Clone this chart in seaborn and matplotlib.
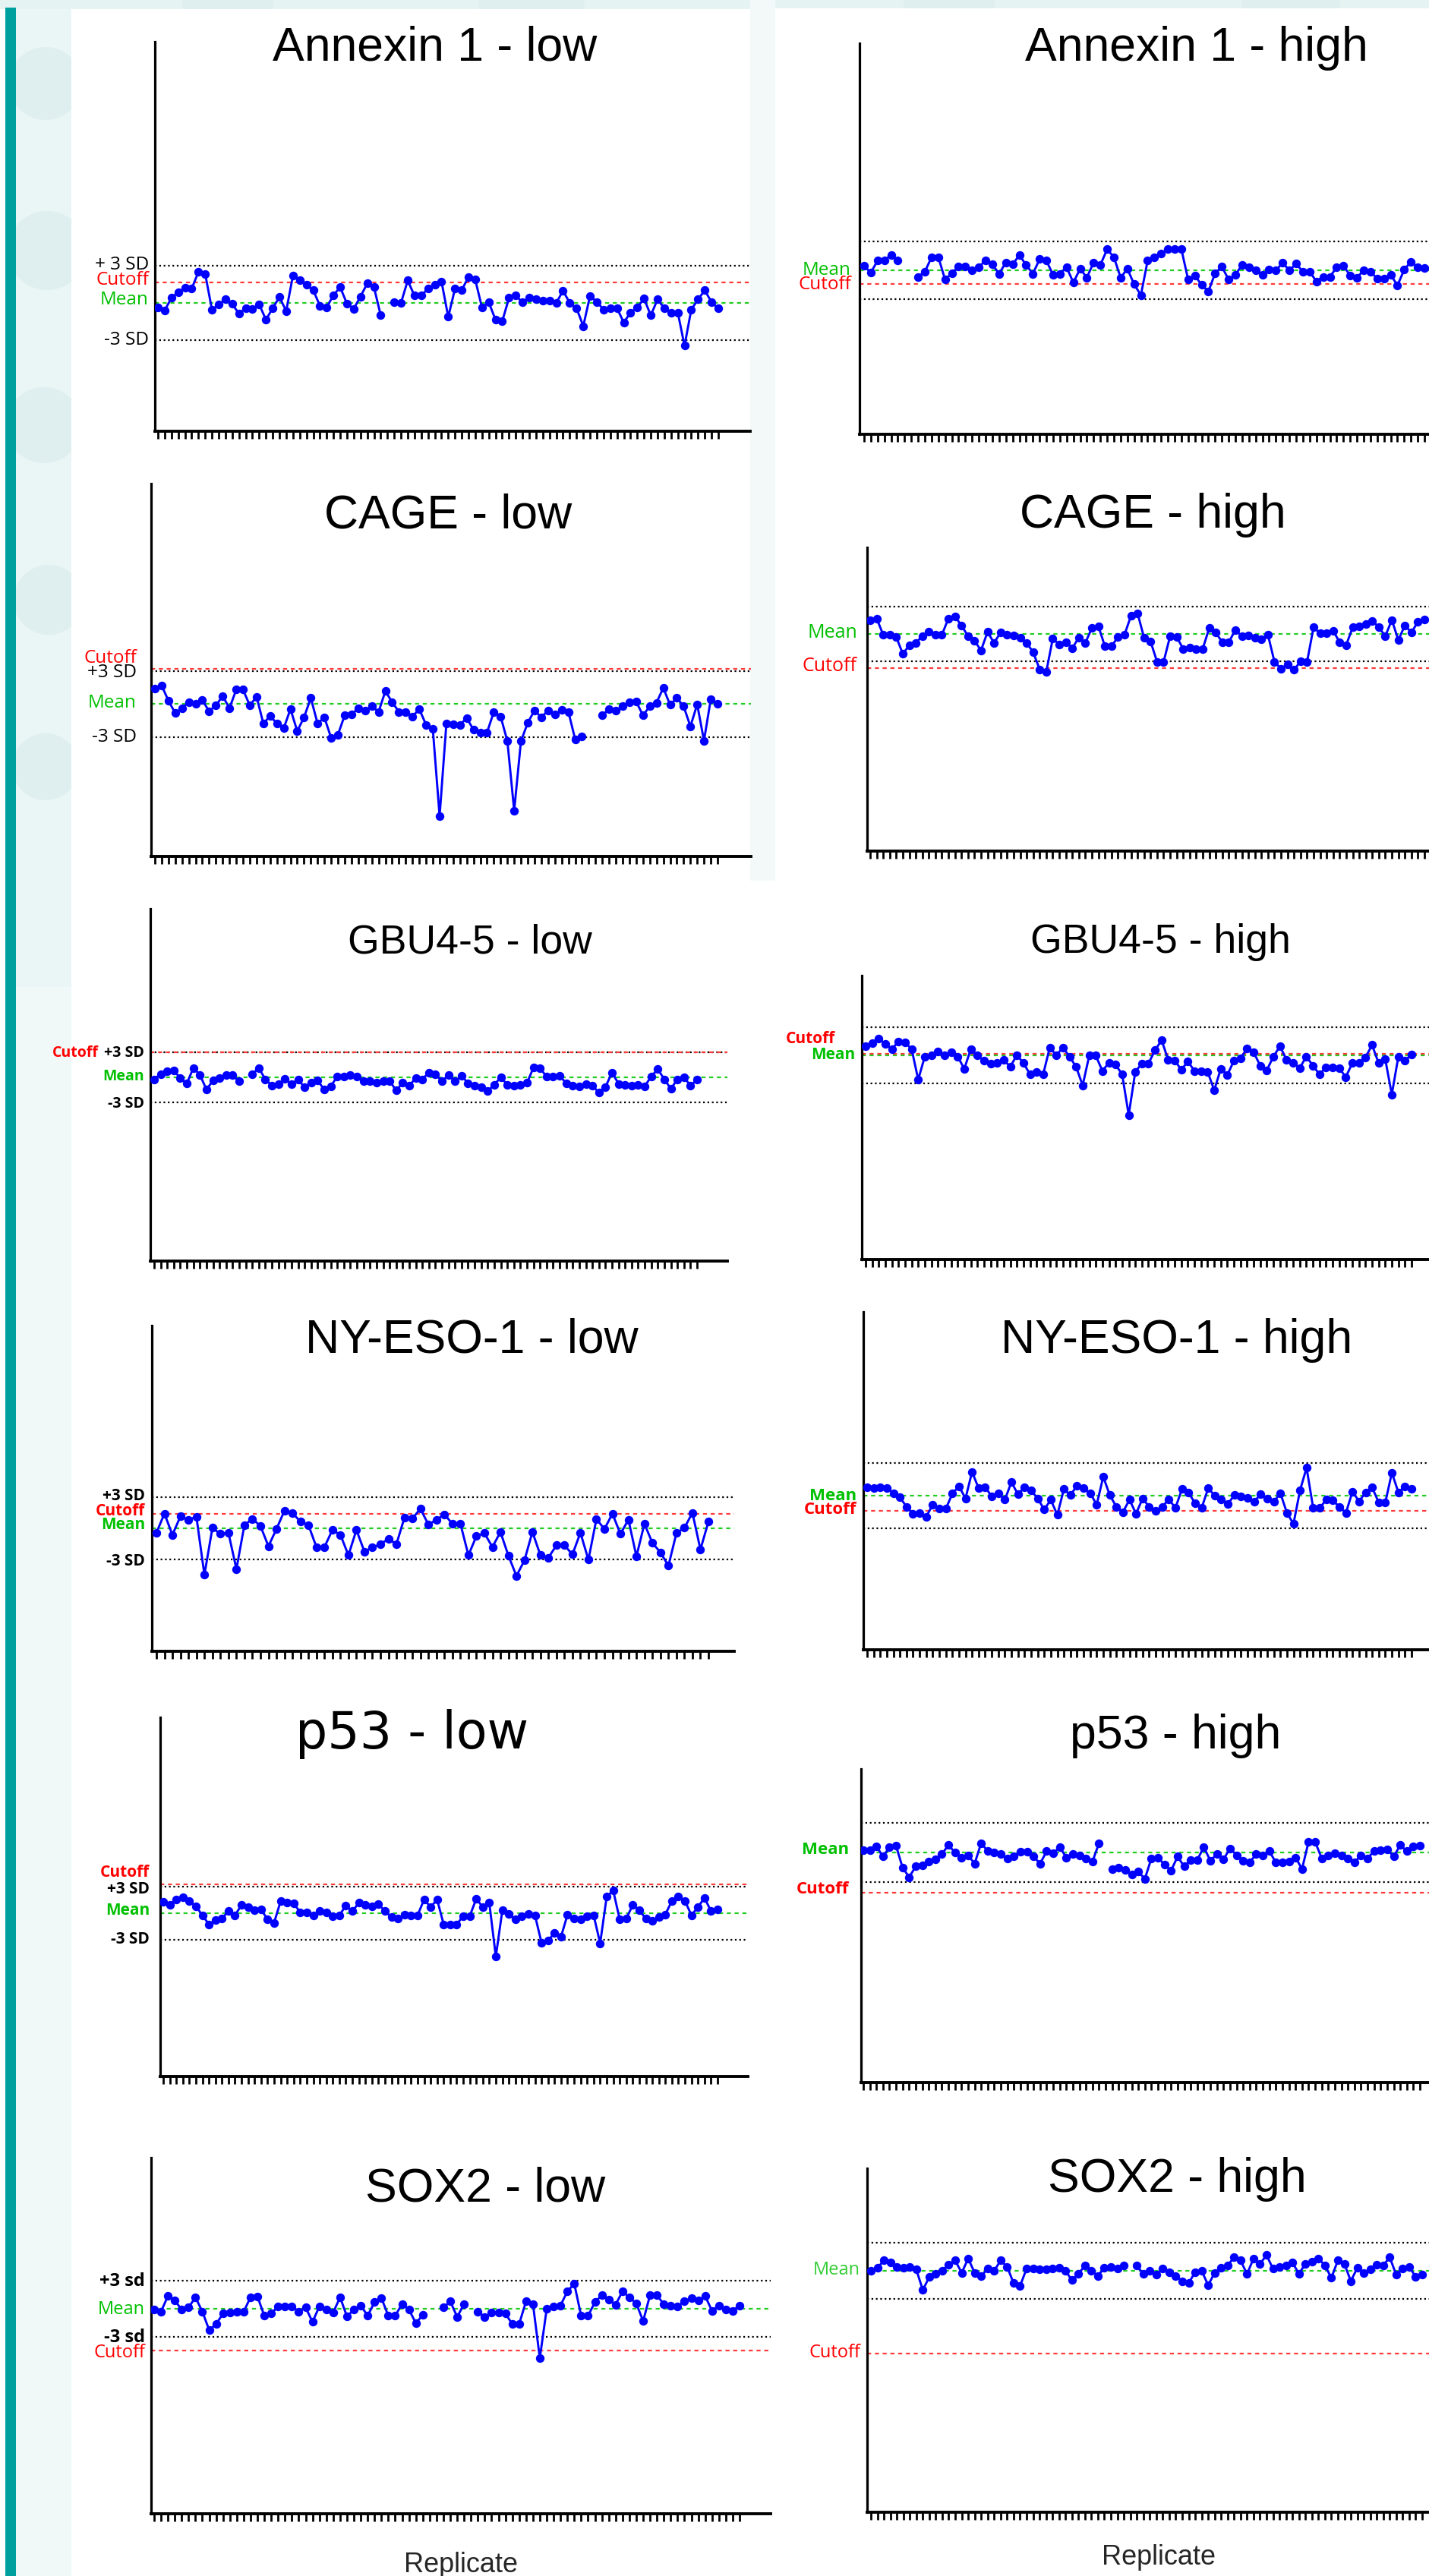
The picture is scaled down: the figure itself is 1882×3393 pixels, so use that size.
import numpy as np
import pandas as pd
import matplotlib
matplotlib.use("Agg")
import matplotlib.pyplot as plt
import seaborn as sns
from matplotlib.patches import Rectangle, Ellipse

W, H = 1883, 3393
nan = np.nan

# values in SD units: mean = 0, control limits at +/-3 SD, nan = missing replicate
annexin_low = [-0.35, -0.6, 0.4, 0.86, 1.2, 1.14, 2.5, 2.33, -0.53, -0.14, 0.28, -0.07, -0.88, -0.42, -0.47,
               -0.12, -1.35, -0.42, 0.47, -0.65, 2.2, 1.84, 1.44, 1.02, -0.23, -0.35, 0.63, 1.26, -0.07, -0.47,
               0.51, 1.56, 1.26, -1.0, nan, 0.05, 0.0, 1.8, 0.58, 0.58, 1.16, 1.44, 1.72, -1.12, 1.14, 1.02, 2.1,
               1.86, -0.37, 0.05, -1.35, -1.47, 0.4, 0.58, 0.05, 0.4, 0.28, 0.21, 0.16, 0.0, 0.98, 0.0, -0.42,
               -1.86, 0.56, 0.09, -0.53, -0.42, -0.42, -1.58, -0.77, -0.37, 0.35, -1.0, 0.28, -0.42, -0.77, -0.77,
               -3.44, -0.53, 0.28, 1.02, 0.05, -0.43]
annexin_high = [0.45, -0.24, 1.0, 1.06, 1.58, 1.0, nan, nan, -0.67, -0.15, 1.36, 1.36, -0.97, -0.3, 0.36, 0.36,
                0.0, 0.3, 1.06, 0.6, -0.36, 0.82, 0.6, 1.58, 0.55, -0.36, 1.15, 1.0, -0.48, -0.36, 0.3, -1.27,
                0.15, -0.76, 0.82, 0.55, 2.18, 1.36, -0.76, 0.15, -1.45, -2.58, 1.0, 1.36, 1.76, 2.18, 2.18, 2.18,
                -0.97, -0.55, -1.52, -2.2, -0.3, 0.36, -0.97, -0.45, 0.55, 0.3, 0.0, -0.45, 0.06, 0.0, 0.76, 0.0,
                0.67, -0.15, -0.15, -1.15, -0.67, -0.67, 0.3, 0.45, -0.52, -0.76, 0.0, -0.15, -0.85, -0.85, -0.45,
                -1.58, 0.06, 0.9, 0.3, 0.24]
cage_low = [1.35, 1.65, 0.28, -0.85, -0.4, 0.15, 0.03, 0.33, -0.68, -0.15, 0.7, -0.4, 1.28, 1.28, -0.15, 0.65,
            -1.8, -1.1, -1.8, -2.23, -0.48, -2.48, -1.23, 0.53, -1.8, -1.23, -3.1, -2.8, -1.05, -0.98, -0.4, -0.6,
            -0.23, -0.73, 1.15, 0.15, -0.73, -0.73, -1.15, -0.48, -1.9, -2.3, -10.2, -1.8, -1.85, -1.9, -1.3,
            -2.35, -2.6, -2.6, -0.73, -1.15, -3.4, -9.7, -3.4, -1.73, -0.6, -1.23, -0.6, -0.98, -0.55, -0.73,
            -3.23, -2.98, nan, nan, -1.05, -0.48, -0.65, -0.23, 0.15, 0.2, -1.05, -0.23, 0.1, 1.45, -0.1, 0.53,
            -0.23, -2.05, -0.05, -3.35, 0.4, 0.03]
cage_high = [1.54, 1.69, -0.09, -0.09, -0.33, -2.17, -1.28, -0.98, -0.24, 0.27, -0.09, -0.09, 1.69, 1.9, 0.95,
             -0.24, -0.74, -1.81, 0.21, -0.98, 0.15, -0.09, -0.15, -0.45, -0.98, -2.02, -3.89, -4.18, -0.53, -1.13,
             -0.92, -1.57, -0.39, -0.98, 0.65, 0.86, -1.36, -1.36, -0.33, -0.09, 1.99, 2.28, -0.39, -0.83, -3.06,
             -3.06, -0.24, -0.33, -1.63, -1.51, -1.63, -1.63, 0.65, 0.15, -0.92, -0.92, 0.45, -0.24, -0.15, -0.45,
             -0.62, -0.09, -3.06, -3.8, -3.35, -3.95, -3.0, -3.06, 0.74, 0.06, 0.06, 0.36, -0.92, -1.22, 0.74,
             0.86, 1.1, 1.45, 0.74, -0.24, 1.54, -0.68, 0.95, 0.15, 1.34, 1.6]
gbu_low = [-0.24, 0.39, 0.73, 0.83, -0.1, -0.73, 1.12, 0.29, -1.46, -0.39, -0.1, 0.24, 0.24, -0.49, nan, 0.39,
           1.12, -0.24, -0.98, -0.83, -0.2, -0.78, -0.29, -1.17, -0.68, -0.39, -1.46, -1.07, 0.1, 0.1, 0.29, 0.1,
           -0.49, -0.49, -0.68, -0.49, -0.44, -1.56, -0.68, -0.98, -0.1, -0.24, 0.59, 0.39, -0.49, 0.29, -0.49,
           0.2, -0.73, -0.98, -1.22, -1.66, -0.88, 0.0, -0.88, -0.98, -0.88, -0.68, 1.17, 1.07, 0.1, 0.1, 0.2,
           -0.73, -0.98, -1.12, -0.78, -0.98, -1.85, -1.17, 0.59, -0.78, -0.88, -0.98, -0.88, -1.07, 0.1, 0.98,
           -0.24, -1.37, -0.24, 0.0, -0.98, -0.29]
gbu_high = [0.97, 1.28, 1.81, 1.19, 0.66, 1.5, 1.37, 0.66, -2.6, -0.13, 0.0, 0.4, -0.04, 0.31, -0.13, -1.45, 0.66,
            -0.04, -0.57, -0.93, -0.79, -0.48, -1.23, 0.04, -0.84, -2.03, -1.76, -2.03, 0.84, 0.0, 0.84, -0.13,
            -1.23, -3.22, -0.04, -0.04, -1.67, -0.79, -1.01, -2.03, -6.39, -1.76, -0.88, -0.88, 0.53, 1.63, -0.48,
            -0.57, -1.54, -0.66, -1.67, -1.67, -1.76, -3.74, -1.45, -2.11, -0.57, -0.35, 0.75, 0.31, -1.1, -1.59,
            -0.13, 0.97, -0.48, -0.84, -1.37, -0.13, -1.1, -2.03, -1.28, -1.28, -1.37, -2.33, -0.84, -0.84, -0.22,
            1.1, -0.84, -0.4, -4.19, -0.13, -0.57, 0.09]
nyeso_low = [-0.43, 1.4, -0.62, 1.13, 0.82, 1.09, -4.44, 0.04, -0.54, -0.43, -3.89, 0.31, 0.89, 0.23, -1.71,
             -0.08, 1.67, 1.48, 0.62, 0.31, -1.79, -1.79, -0.16, -0.62, -2.57, -0.16, -2.22, -1.83, -1.52, -1.01,
             -1.52, 1.01, 0.93, 1.87, 0.35, 0.82, 1.32, 0.43, 0.43, -2.57, -0.74, -0.47, -1.79, -0.35, -2.61,
             -4.55, -3.07, -0.35, -2.57, -2.8, -1.63, -1.63, -2.49, -0.43, -3.0, 0.89, -0.08, 1.4, -0.54, 0.82,
             -2.68, 0.43, -1.4, -2.3, -3.58, -0.47, 0.04, 1.48, -2.02, 0.62]
nyeso_high = [0.79, 0.68, 0.79, 0.68, 0.23, -0.15, -1.02, -1.66, -1.58, -1.96, -0.83, -1.21, -1.21, 0.19, 0.87,
              -0.26, 2.19, 0.68, 0.79, -0.08, 0.23, -0.38, 1.25, 0.11, 0.79, 0.49, -0.26, -1.28, -0.38, -1.77,
              0.6, 0.04, 0.94, 0.68, 0.23, -0.83, 1.74, 0.04, -1.02, -1.51, -0.38, -1.66, -0.26, -1.02, -1.4,
              -1.02, -0.34, -1.13, 0.6, 0.3, -0.72, -1.13, 0.68, 0.0, -0.38, -0.75, 0.04, -0.08, -0.19, -0.53,
              0.11, -0.26, -0.57, 0.23, -1.58, -2.6, 0.49, 2.57, -1.13, -1.13, -0.38, -0.45, -1.02, -1.58, 0.38,
              -0.53, 0.3, 0.75, -0.64, -0.64, 2.11, 0.3, 0.87, 0.6]
p53_low = [1.24, 0.92, 1.52, 1.75, 1.38, 0.78, -0.23, -1.24, -0.78, -0.6, 0.23, -0.23, 0.92, 0.69, 0.32, 0.41,
           -0.69, -1.06, 1.34, 1.15, 1.11, 0.09, 0.09, -0.23, 0.23, 0.05, -0.32, -0.23, 0.83, 0.23, 1.15, 0.92,
           0.78, 1.01, 0.23, -0.46, -0.6, -0.14, -0.23, -0.23, 1.52, 0.69, 1.52, -1.24, -1.24, -1.24, -0.32,
           -0.32, 1.61, 0.69, 1.15, -4.84, 0.32, -0.09, -0.69, -0.32, -0.05, -0.23, -3.27, -3.09, -2.17, -2.63,
           -0.14, -0.6, -0.69, -0.37, -0.23, -3.36, 1.84, 2.53, -0.69, -0.6, 0.92, 0.32, -0.6, -0.88, -0.46,
           -0.14, 1.38, 1.84, 1.38, -0.23, 0.69, 1.71, 0.23, 0.41]
p53_high = [0.25, 0.25, 0.63, -0.42, 0.54, 0.67, -1.54, -2.5, -1.42, -1.33, -0.92, -0.71, -0.17, 0.75, 0.0, -0.5,
            -0.29, -1.13, 0.96, 0.13, 0.0, -0.17, -0.58, -0.42, 0.04, 0.04, -0.42, -1.13, 0.13, -0.08, 0.54, -0.5,
            -0.17, -0.29, -0.58, -0.92, 0.96, nan, -1.67, -1.54, -1.75, -2.25, -1.96, -2.67, -0.58, -0.5, -1.25,
            -1.83, -0.42, -1.42, -0.75, -0.75, 0.54, -0.83, -0.17, -0.71, 0.42, -0.29, -0.83, -1.0, -0.17, -0.29,
            0.13, -1.0, -1.0, -0.92, -0.5, -1.67, 1.08, 1.08, -0.58, -0.29, -0.08, -0.29, -0.58, -1.0, -0.29,
            -0.58, 0.13, 0.25, 0.33, -0.42, 0.75, 0.13, 0.63, 0.67]
sox2_low = [-0.09, -0.31, 1.38, 0.89, -0.09, 0.13, 1.24, -0.31, -2.31, -1.64, -0.53, -0.4, -0.31, -0.31, 1.24,
            1.33, -0.76, -0.53, 0.27, 0.27, 0.27, -0.31, 0.13, -1.42, 0.27, -0.09, -0.4, 1.24, -0.84, -0.09, 0.36,
            -0.76, 0.71, 1.16, -0.76, -0.76, 0.53, -0.09, -1.56, -0.67, nan, nan, 0.13, 0.8, -0.89, 0.53, nan,
            -0.31, -0.89, -0.44, -0.44, -0.53, -1.64, -1.64, 0.8, 0.53, -5.33, 0.0, 0.27, 0.36, 1.87, 2.71, -0.76,
            -0.76, 0.71, 1.47, 1.02, 0.44, 1.87, 1.24, 0.58, -1.33, 1.47, 1.47, 0.49, 0.36, 0.27, 0.8, 1.16, 0.89,
            1.38, -0.22, 0.36, -0.09, -0.22, 0.36]
sox2_high = [0.0, 0.31, 1.1, 0.88, 0.44, 0.31, 0.44, 0.13, -2.06, -0.66, -0.35, 0.0, 0.66, 1.1, -0.22, 1.32,
             -0.22, -0.57, 0.22, 0.0, 1.1, 0.44, -1.32, -1.62, 0.22, 0.22, 0.13, 0.13, 0.22, 0.31, 0.0, -1.01,
             -0.35, 0.57, 0.0, -0.53, 0.31, 0.44, 0.22, 0.53, nan, 0.57, -0.35, 0.0, -0.44, 0.22, -0.13, -0.57,
             -1.1, -1.32, -0.13, 0.0, -1.54, -0.22, 0.31, 0.57, 1.45, 1.1, -0.35, 1.32, 0.75, 1.67, 0.22, 0.44,
             0.57, 0.88, -0.31, 0.75, 1.01, 1.32, 0.57, -0.75, 1.1, 0.75, -1.1, 0.31, -0.22, 0.13, 0.66, 0.57,
             1.45, -0.44, 0.22, 0.44, -0.66, -0.44]

titles = ["Annexin 1 - low", "Annexin 1 - high", "CAGE - low", "CAGE - high", "GBU4-5 - low", "GBU4-5 - high",
          "NY-ESO-1 - low", "NY-ESO-1 - high", "p53 - low", "p53 - high", "SOX2 - low", "SOX2 - high"]
series = [annexin_low, annexin_high, cage_low, cage_high, gbu_low, gbu_high,
          nyeso_low, nyeso_high, p53_low, p53_high, sox2_low, sox2_high]
cutoffs = [1.63, -1.45, 3.2, -3.74, 3.0, 0.18, 1.36, -1.4, 3.23, -4.04, -4.53, -8.86]

BLUE = "#0000ff"
K, R, G, G2 = "black", "#ff0000", "#00c000", "#33cc33"
TITLE_FONT = ["Liberation Sans", "DejaVu Sans"]

# panel geometry in pixels: axis left, top, bottom, right, first/last point x, mean y, px per SD
layout = [
    dict(box=(204, 55, 568, 988), pts=(208, 946), mean=399, sd=16.4, title=(573, 80, 45), lab=196, fs=17.5,
         labels=[("+ 3 SD", K, 349, "normal"), ("Cutoff", R, 369, "normal"), ("Mean", G, 395, "normal"),
                 ("-3 SD", K, 448, "normal")]),
    dict(box=(1132, 57, 572, 1883), pts=(1138, 1876), mean=356, sd=12.7, title=(1576, 80, 45), lab=1121,
         fs=17.5, labels=[("Mean", G, 356, "normal"), ("Cutoff", R, 375, "normal")]),
    dict(box=(199, 637, 1128, 989), pts=(204, 945), mean=927, sd=14.5, title=(590, 695, 45), lab=180, fs=17.5,
         labels=[("Cutoff", R, 867, "normal"), ("+3 SD", K, 886, "normal"), ("Mean", G, 926, "normal"),
                 ("-3 SD", K, 971, "normal")]),
    dict(box=(1142, 721, 1121, 1883), pts=(1146, 1876), mean=835, sd=12.0, title=(1518, 695, 45), lab=1129,
         fs=18, labels=[("Mean", G, 834, "normal"), ("Cutoff", R, 878, "normal")]),
    dict(box=(198, 1197, 1661, 958), pts=(203, 918), mean=1419, sd=11.0, title=(619, 1255, 38.5), lab=190,
         fs=14, labels=[("Cutoff", R, 1387, "bold", 130), ("+3 SD", K, 1387, "bold"), ("Mean", G, 1418, "bold"),
                        ("-3 SD", K, 1454, "bold")]),
    dict(box=(1135, 1285, 1659, 1883), pts=(1140, 1859), mean=1390, sd=12.3, title=(1528, 1255, 38.5),
         lab=1126, fs=15, labels=[("Cutoff", R, 1369, "bold", 1100), ("Mean", G, 1390, "bold")]),
    dict(box=(200, 1746, 2175, 967), pts=(206, 933), mean=2013, sd=13.8, title=(621, 1782, 45), lab=191, fs=15,
         labels=[("+3 SD", K, 1971, "bold"), ("Cutoff", R, 1991, "bold"), ("Mean", G, 2009, "bold"),
                 ("-3 SD", K, 2056, "bold")]),
    dict(box=(1137, 1728, 2173, 1883), pts=(1142, 1859), mean=1970, sd=14.3, title=(1550, 1782, 45), lab=1128,
         fs=16, labels=[("Mean", G, 1970, "bold"), ("Cutoff", R, 1989, "bold")]),
    dict(box=(211, 2262, 2735, 985), pts=(215, 945), mean=2520, sd=11.8, title=(543, 2303, 48), lab=197, fs=15,
         labels=[("Cutoff", R, 2467, "bold"), ("+3 SD", K, 2488, "bold"), ("Mean", G, 2517, "bold"),
                 ("-3 SD", K, 2555, "bold")], title_font=["DejaVu Sans"]),
    dict(box=(1134, 2330, 2743, 1883), pts=(1137, 1870), mean=2440, sd=13.0, title=(1548, 2303, 45), lab=1118,
         fs=16, labels=[("Mean", G, 2437, "bold"), ("Cutoff", R, 2488, "bold")]),
    dict(box=(199, 2842, 3311, 1015), pts=(203, 974), mean=3041, sd=12.2, title=(639, 2900, 45), lab=191, fs=17,
         labels=[("+3 sd", K, 3005, "bold"), ("Mean", G, 3042, "normal"), ("-3 sd", K, 3079, "bold"),
                 ("Cutoff", R, 3099, "normal")]),
    dict(box=(1142, 2856, 3309, 1883), pts=(1147, 1873), mean=2991, sd=12.3, title=(1550, 2887, 45), lab=1133,
         fs=17, labels=[("Mean", G2, 2990, "normal"), ("Cutoff", R, 3099, "normal")]),
]

sns.set_style("white")
plt.rcParams["font.family"] = TITLE_FONT

fig = plt.figure(figsize=(W / 100, H / 100), dpi=100)
fig.patch.set_facecolor("white")


def fx(px):
    return px / W


def fy(py):
    return 1 - py / H


def rect(x0, y0, x1, y1, color, z):
    fig.add_artist(Rectangle((fx(x0), fy(y1)), fx(x1) - fx(x0), fy(y0) - fy(y1), transform=fig.transFigure,
                             facecolor=color, edgecolor="none", zorder=z))


# slide background: pale bubbles at the margins, teal bar on the left
rect(21, 0, 94, 1300, "#eaf5f5", -3)
rect(21, 1300, 94, H, "#f1f8f8", -3)
rect(0, 0, W, 12, "#e6f3f3", -3)
rect(988, 0, 1021, 1160, "#f3f9f9", -3)
for cx, cy, r in [(60, 110, 48), (62, 330, 52), (58, 560, 50), (64, 790, 46), (60, 1010, 44),
                  (300, 0, 60), (700, 0, 70), (1250, 0, 60), (1700, 0, 65)]:
    fig.add_artist(Ellipse((fx(cx), fy(cy)), 2 * r / W, 2 * r / H, transform=fig.transFigure,
                           facecolor="#dfefef", edgecolor="none", zorder=-2.5))
rect(94, 12, 988, H, "white", -2)
rect(1021, 11, W, H, "white", -2)
rect(7, 10, 21, H, "#00a09f", -1)

for title, vals, cut, spec in zip(titles, series, cutoffs, layout):
    left, top, bottom, right = spec["box"]
    first, last = spec["pts"]
    n = len(vals)
    step = (last - first) / (n - 1)

    ax = fig.add_axes([fx(left), fy(bottom), fx(right) - fx(left), fy(top) - fy(bottom)])
    ax.set_facecolor("none")

    df = pd.DataFrame({"replicate": np.arange(1, n + 1), "value": vals})
    df["run"] = df["value"].isna().cumsum()
    df = df.dropna()

    ax.axhline(3, color="black", ls=(0, (1, 1.6)), lw=1.6, zorder=1)
    ax.axhline(-3, color="black", ls=(0, (1, 1.6)), lw=1.6, zorder=1)
    ax.axhline(0, color="#22cc22", ls=(0, (2.4, 2.2)), lw=1.6, zorder=1.2)
    ax.axhline(cut, color="#ff3b3b", ls=(0, (2.4, 2.2)), lw=1.6, zorder=1.3)

    sns.lineplot(data=df, x="replicate", y="value", units="run", estimator=None, color=BLUE, marker="o",
                 markersize=8.2, markeredgewidth=0, linewidth=2.1, legend=False, ax=ax, zorder=3)

    ax.set_xlim(1 - (first - left) / step, n + (right - last) / step)
    ax.set_ylim(-(bottom - spec["mean"]) / spec["sd"], (spec["mean"] - top) / spec["sd"])
    ax.set_xticks(np.arange(1, n + 1))
    ax.set_xticklabels([])
    ax.set_yticks([])
    ax.set_xlabel("")
    ax.set_ylabel("")
    ax.tick_params(axis="x", direction="out", length=7, width=2.0, color="black", bottom=True)
    for side in ["top", "right"]:
        ax.spines[side].set_visible(False)
    ax.spines["left"].set_linewidth(2.3)
    ax.spines["bottom"].set_linewidth(2.8)
    ax.spines["left"].set_color("black")
    ax.spines["bottom"].set_color("black")

    tx, ty, tsize = spec["title"]
    fig.text(fx(tx), fy(ty), title, ha="center", va="baseline", fontsize=tsize, color="black",
             family=spec.get("title_font", TITLE_FONT))

    for lab in spec["labels"]:
        text, color, ly, weight = lab[:4]
        lx = lab[4] if len(lab) > 4 else spec["lab"]
        fig.text(fx(lx), fy(ly), text, ha="right", va="center", fontsize=spec["fs"], color=color,
                 weight=weight, family=["Open Sans", "DejaVu Sans"])

fig.text(fx(607), fy(3388), "Replicate", ha="center", va="baseline", fontsize=26)
fig.text(fx(1526), fy(3378), "Replicate", ha="center", va="baseline", fontsize=26)

fig.savefig("out.png", dpi=100, facecolor=fig.get_facecolor())
plt.close(fig)
